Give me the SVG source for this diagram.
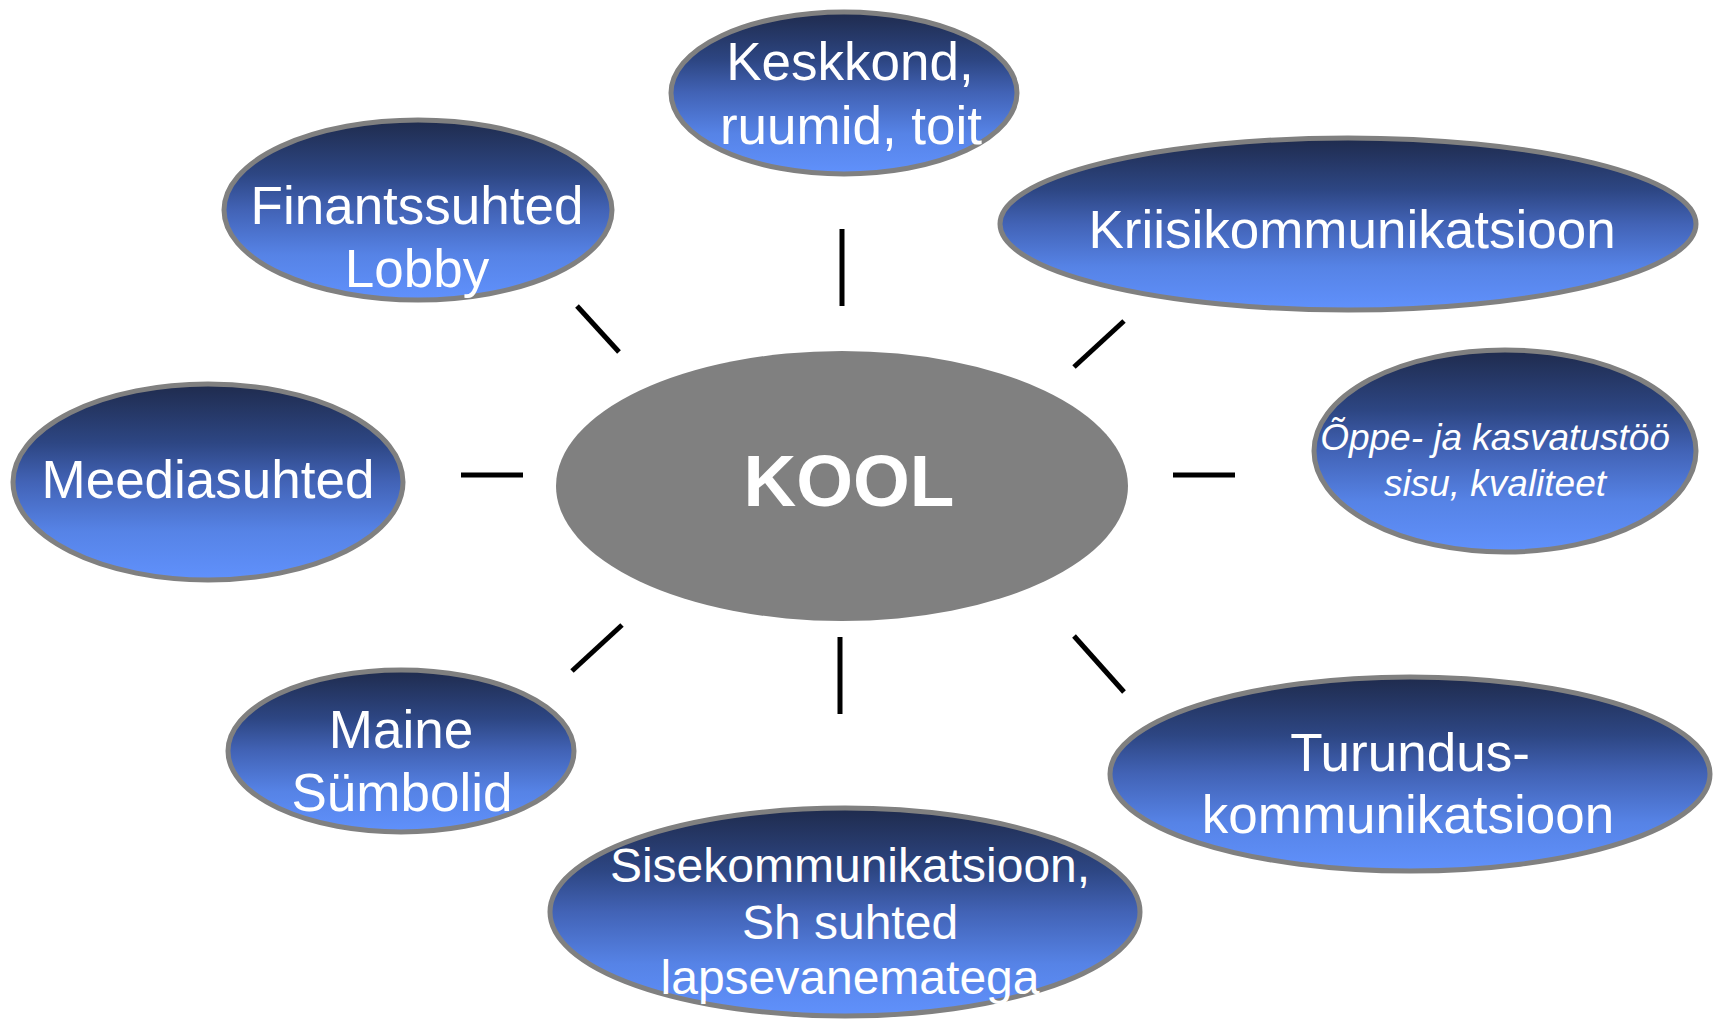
<svg xmlns="http://www.w3.org/2000/svg" width="1719" height="1019" viewBox="0 0 1719 1019">
<defs>
<linearGradient id="blue" x1="0" y1="0" x2="0" y2="1">
<stop offset="0" stop-color="#1f2b4d"/>
<stop offset="0.3" stop-color="#2d4683"/>
<stop offset="0.5" stop-color="#4263b6"/>
<stop offset="0.75" stop-color="#5683e6"/>
<stop offset="1" stop-color="#6091fc"/>
</linearGradient>
</defs>
<style>
.n{fill:url(#blue);stroke:#808080;stroke-width:5}
.t{fill:#ffffff;font-family:"Liberation Sans",Arial,sans-serif;font-size:53px;text-anchor:middle}
.c{stroke:#000000;stroke-width:5;fill:none}
</style>
<rect width="1719" height="1019" fill="#ffffff"/>
<g id="connectors">
<line class="c" x1="842" y1="229" x2="842" y2="306"/>
<line class="c" x1="577" y1="306" x2="619" y2="352"/>
<line class="c" x1="1124" y1="321" x2="1074" y2="367"/>
<line class="c" x1="461" y1="475" x2="523" y2="475"/>
<line class="c" x1="1173" y1="475" x2="1235" y2="475"/>
<line class="c" x1="622" y1="625" x2="572" y2="671"/>
<line class="c" x1="840" y1="637" x2="840" y2="714"/>
<line class="c" x1="1074" y1="636" x2="1124" y2="692"/>
</g>
<g id="kool">
<ellipse cx="842" cy="486" rx="286" ry="135" fill="#808080"/>
<text x="849" y="506" fill="#ffffff" font-family="'Liberation Sans',Arial,sans-serif" font-size="73" font-weight="bold" text-anchor="middle">KOOL</text>
</g>
<g id="keskkond">
<ellipse class="n" cx="844" cy="93" rx="173" ry="81"/>
<text class="t" x="850" y="80">Keskkond,</text>
<text class="t" x="851" y="144">ruumid, toit</text>
</g>
<g id="finantssuhted">
<ellipse class="n" cx="418" cy="210" rx="194" ry="90"/>
<text class="t" x="417" y="224">Finantssuhted</text>
<text class="t" x="417" y="287">Lobby</text>
</g>
<g id="kriisikommunikatsioon">
<ellipse class="n" cx="1348" cy="224" rx="348" ry="86"/>
<text class="t" x="1352" y="248">Kriisikommunikatsioon</text>
</g>
<g id="meediasuhted">
<ellipse class="n" cx="208" cy="482" rx="195" ry="98"/>
<text class="t" x="208" y="498">Meediasuhted</text>
</g>
<g id="oppe">
<ellipse class="n" cx="1505" cy="451" rx="191" ry="101"/>
<text class="t" x="1495" y="450" style="font-size:37px;font-style:italic">Õppe- ja kasvatustöö</text>
<text class="t" x="1495" y="496" style="font-size:37px;font-style:italic">sisu, kvaliteet</text>
</g>
<g id="maine">
<ellipse class="n" cx="401" cy="751" rx="173" ry="81"/>
<text class="t" x="401" y="748">Maine</text>
<text class="t" x="402" y="811">Sümbolid</text>
</g>
<g id="turundus">
<ellipse class="n" cx="1410" cy="774" rx="300" ry="97"/>
<text class="t" x="1410" y="771">Turundus-</text>
<text class="t" x="1408" y="833">kommunikatsioon</text>
</g>
<g id="sisekommunikatsioon">
<ellipse class="n" cx="845" cy="912" rx="295" ry="104"/>
<text class="t" x="850" y="882" style="font-size:48px">Sisekommunikatsioon,</text>
<text class="t" x="850" y="939" style="font-size:48px">Sh suhted</text>
<text class="t" x="850" y="994" style="font-size:48px">lapsevanematega</text>
</g>
</svg>
